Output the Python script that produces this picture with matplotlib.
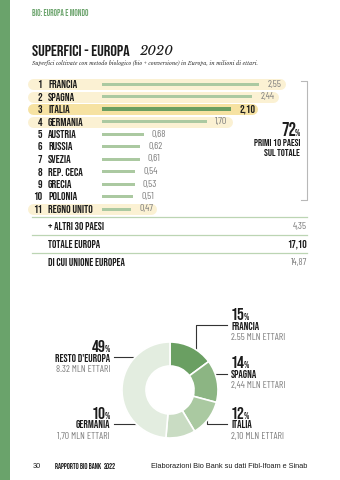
import matplotlib
matplotlib.use("Agg")
import matplotlib.pyplot as plt
from matplotlib import font_manager

# --- data ---
ranks = [1, 2, 3, 4, 5, 6, 7, 8, 9, 10, 11]
countries = ["FRANCIA", "SPAGNA", "ITALIA", "GERMANIA", "AUSTRIA", "RUSSIA",
             "SVEZIA", "REP. CECA", "GRECIA", "POLONIA", "REGNO UNITO"]
surfaces = [2.55, 2.44, 2.10, 1.70, 0.68, 0.62, 0.61, 0.54, 0.53, 0.51, 0.47]
highlighted = [1, 2, 3, 4, 11]

summary_labels = ["+ ALTRI 30 PAESI", "TOTALE EUROPA", "DI CUI UNIONE EUROPEA"]
summary_values = [4.35, 17.10, 14.87]

donut_labels = ["FRANCIA", "SPAGNA", "ITALIA", "GERMANIA", "RESTO D'EUROPA"]
donut_values = [2.55, 2.44, 2.10, 1.70, 8.32]
donut_pcts = [15, 14, 12, 10, 49]
donut_ha = ["2.55", "2,44", "2,10", "1,70", "8.32"]
donut_colors = ["#6a9f62", "#8cb583", "#aac9a1", "#c9dcc3", "#e3ede0"]

names = {f.name for f in font_manager.fontManager.ttflist}


def pick(*cands):
    for c in cands:
        if c in names:
            return c
    return "DejaVu Sans"


HEAD = pick("Bebas Neue", "Oswald", "Barlow Condensed")
LIGHT = pick("Barlow Condensed", "Oswald", "Archivo Narrow")
SERIF = pick("Libre Baskerville", "EB Garamond", "Liberation Serif")
SANS = pick("Arimo", "Liberation Sans")
DARK = "#1c1c1c"
GREY = "#7d7d7d"
GREEN = "#6aa36b"

fig = plt.figure(figsize=(3.4, 4.8), dpi=100)
fig.patch.set_facecolor("white")

# page overlay in pixel coordinates
page = fig.add_axes([0, 0, 1, 1])
page.set_xlim(0, 340)
page.set_ylim(480, 0)
page.axis("off")

page.axvspan(0, 10, color=GREEN, lw=0)
page.text(32, 13, "BIO: EUROPA E MONDO", color=GREEN, fontsize=6.2,
          fontfamily=HEAD, va="center")
t = page.text(32, 51, "SUPERFICI - EUROPA", color=DARK, fontsize=11.8,
              fontfamily=HEAD, va="center")
page.annotate("2020", xy=(1, 0.5), xycoords=t, xytext=(7, 0),
              textcoords="offset points", va="center", fontsize=9.5,
              fontfamily=SERIF, style="italic", color=DARK)
page.text(32, 63, "Superfici coltivate con metodo biologico (bio + conversione) "
          "in Europa, in milioni di ettari.", fontsize=3.9, fontfamily=SERIF,
          style="italic", color="#333333", va="center")

# --- bar chart ---
px_unit = 61.6
left_px, right_px, top_px = 28, 310, 77.75
row_px = 12.5
ax = fig.add_axes([left_px / 340, 1 - (top_px + row_px * len(ranks)) / 480,
                   (right_px - left_px) / 340, row_px * len(ranks) / 480])
ax.set_xlim(-(102 - left_px) / px_unit, (right_px - 102) / px_unit)
ax.set_ylim(len(ranks) - 0.5, -0.5)
ax.axis("off")

tr = ax.get_yaxis_transform()
for i, (r, name, v) in enumerate(zip(ranks, countries, surfaces)):
    bold = name == "ITALIA"
    if r in highlighted:
        col = "#f6e2a2" if bold else "#fbf1d3"
        ax.plot([(32.5 - 102) / px_unit, v + 20.5 / px_unit], [i, i],
                color=col, lw=7.9, solid_capstyle="round", zorder=1)
    ax.barh(i, v, height=0.26 if bold else 0.24,
            color="#6a9e62" if bold else "#abc9a1", zorder=2)
    ax.text(0.05, i, str(r), transform=tr, ha="right", va="center",
            fontsize=8.2, fontfamily=HEAD, color=DARK)
    ax.text(0.071, i, name, transform=tr, ha="left", va="center",
            fontsize=8.2, fontfamily=HEAD, color=DARK)
    ax.annotate(f"{v:.2f}".replace(".", ","), (v, i), xytext=(5.8, 0),
                textcoords="offset points", va="center",
                fontsize=8.2 if bold else 7.2,
                fontfamily=HEAD if bold else LIGHT,
                color=DARK if bold else GREY)

# bracket + share of top 10
page.plot([301, 307, 307, 301], [81, 81, 200, 200], color="#b8b8b8", lw=0.8)
p = page.text(300, 135.5, "%", ha="right", va="baseline", fontsize=6.5,
              fontfamily=HEAD, color=DARK)
page.annotate("72", xy=(0, 0), xycoords=p, xytext=(1, 0),
              textcoords="offset points", ha="right", va="bottom",
              fontsize=13.5, fontfamily=HEAD, color=DARK)
page.text(300, 142, "PRIMI 10 PAESI", ha="right", va="center", fontsize=7.4,
          fontfamily=HEAD, color=DARK)
page.text(300, 152, "SUL TOTALE", ha="right", va="center", fontsize=7.4,
          fontfamily=HEAD, color=DARK)

# summary rows
for y in (217, 235, 253):
    page.plot([32, 307], [y, y], color="#bcd5b3", lw=0.9)
for k, (lab, val) in enumerate(zip(summary_labels, summary_values)):
    y = 226.5 + 18 * k
    bold = k == 1
    page.text(48, y, lab, va="center", fontsize=7.8, fontfamily=HEAD, color=DARK)
    page.text(307, y, f"{val:.2f}".replace(".", ","), va="center", ha="right",
              fontsize=8 if bold else 7.2, fontfamily=HEAD if bold else LIGHT,
              color=DARK if bold else GREY)

# --- donut ---
cx, cy, rad = 170, 390, 48
dax = fig.add_axes([(cx - rad) / 340, 1 - (cy + rad) / 480, 2 * rad / 340, 2 * rad / 480])
dax.pie(donut_values, colors=donut_colors, startangle=90, counterclock=False,
        wedgeprops=dict(width=0.5, edgecolor="white", linewidth=1.2))
dax.set_xlim(-1, 1)
dax.set_ylim(-1, 1)

leaders = [
    ([196, 196, 227], [359, 325, 325]),
    ([207, 227], [374, 374]),
    ([207, 207, 227], [410, 424, 424]),
    ([177, 114], [424, 424]),
    ([147, 114], [357, 357]),
]
anchors = [(231, 315, "left"), (231, 363, "left"), (231, 414, "left"),
           (110, 414, "right"), (110, 347, "right")]
for (lx, ly), (x, y, side), lab, pc, ha in zip(leaders, anchors, donut_labels,
                                                donut_pcts, donut_ha):
    page.plot(lx, ly, color="#333333", lw=0.8)
    if side == "left":
        n = page.text(x, y + 5, str(pc), ha="left", va="baseline", fontsize=12.5,
                      fontfamily=HEAD, color=DARK)
        page.annotate("%", xy=(1, 0), xycoords=n, xytext=(-0.8, 0),
                      textcoords="offset points", ha="left", va="bottom",
                      fontsize=6.5, fontfamily=HEAD, color=DARK)
    else:
        n = page.text(x, y + 5, "%", ha="right", va="baseline", fontsize=6.5,
                      fontfamily=HEAD, color=DARK)
        page.annotate(str(pc), xy=(0, 0), xycoords=n, xytext=(0.8, 0),
                      textcoords="offset points", ha="right", va="bottom",
                      fontsize=12.5, fontfamily=HEAD, color=DARK)
    page.text(x, y + 10.5, lab, ha=side, va="center", fontsize=7.8,
              fontfamily=HEAD, color=DARK)
    page.text(x, y + 22.5, f"{ha} MLN ETTARI", ha=side, va="center", fontsize=7,
              fontfamily=LIGHT, color=GREY)

# footer
page.text(33, 466, "30", va="center", fontsize=5.3, fontfamily=SANS, color=DARK)
page.text(55, 466, "RAPPORTO BIO BANK", va="center", fontsize=5.5,
          fontfamily=HEAD, color=DARK)
page.text(104, 466, "2022", va="center", fontsize=5.5, fontfamily=HEAD, color=DARK)
page.text(307, 466, "Elaborazioni Bio Bank su dati Fibl-Ifoam e Sinab", ha="right",
          va="center", fontsize=5.3, fontfamily=SANS, color=DARK)

fig.savefig("out.png", dpi=100, facecolor="white")
